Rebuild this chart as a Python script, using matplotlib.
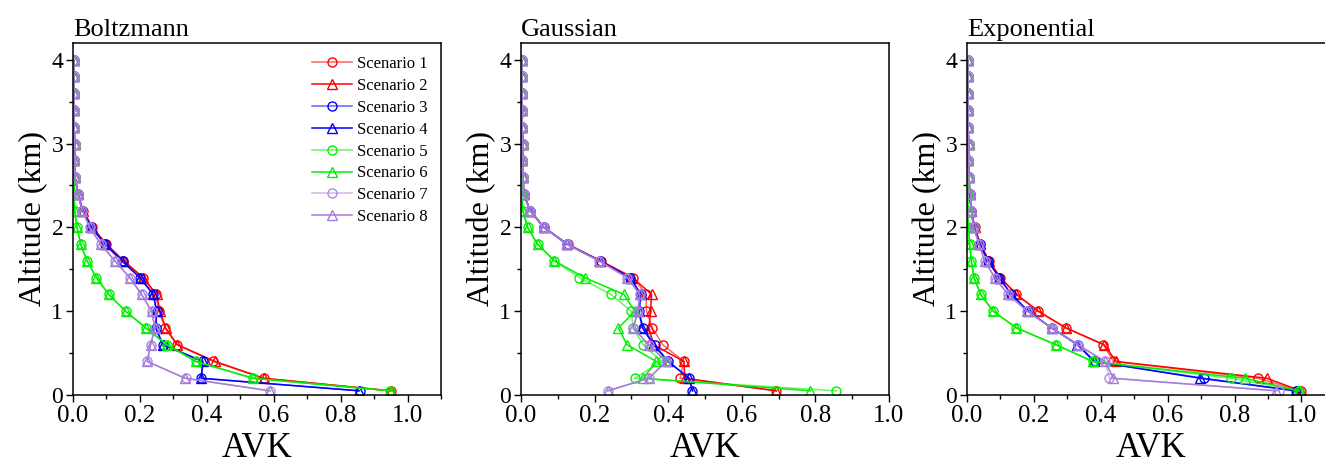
import matplotlib
matplotlib.use("Agg")
import matplotlib.pyplot as plt
from matplotlib.ticker import MultipleLocator

plt.rcParams['font.family'] = ['Liberation Serif', 'DejaVu Serif']

# altitude levels (km)
altitude = [0.05, 0.2, 0.4, 0.6, 0.8, 1.0, 1.2, 1.4, 1.6, 1.8, 2.0, 2.2, 2.4,
            2.6, 2.8, 3.0, 3.2, 3.4, 3.6, 3.8, 4.0]

# AVK above 2.4 km is ~0 for every scenario
upper = [0.006, 0.004, 0.005, 0.003, 0.004, 0.002, 0.003, 0.002]

# Boltzmann, values for 0.05 ... 2.4 km
boltz_1 = [0.950, 0.570, 0.420, 0.310, 0.275, 0.257, 0.247, 0.208, 0.150, 0.098, 0.058, 0.030, 0.015]
boltz_2 = [0.950, 0.570, 0.425, 0.312, 0.277, 0.260, 0.250, 0.210, 0.152, 0.100, 0.058, 0.030, 0.015]
boltz_3 = [0.857, 0.383, 0.390, 0.270, 0.248, 0.250, 0.240, 0.200, 0.148, 0.097, 0.055, 0.028, 0.015]
boltz_4 = [0.855, 0.383, 0.388, 0.268, 0.247, 0.250, 0.240, 0.200, 0.146, 0.095, 0.055, 0.028, 0.015]
boltz_5 = [0.948, 0.538, 0.368, 0.280, 0.218, 0.157, 0.107, 0.070, 0.042, 0.023, 0.012, 0.005, 0.003]
boltz_6 = [0.948, 0.538, 0.368, 0.280, 0.218, 0.157, 0.107, 0.070, 0.042, 0.023, 0.012, 0.005, 0.003]
boltz_7 = [0.590, 0.337, 0.222, 0.232, 0.245, 0.235, 0.205, 0.170, 0.125, 0.083, 0.050, 0.028, 0.015]
boltz_8 = [0.588, 0.335, 0.222, 0.232, 0.245, 0.235, 0.205, 0.170, 0.125, 0.083, 0.050, 0.028, 0.015]

# Gaussian
gauss_1 = [0.694, 0.432, 0.443, 0.385, 0.357, 0.341, 0.340, 0.305, 0.218, 0.127, 0.062, 0.025, 0.007]
gauss_2 = [0.694, 0.445, 0.443, 0.360, 0.348, 0.352, 0.355, 0.303, 0.216, 0.126, 0.062, 0.025, 0.007]
gauss_3 = [0.466, 0.457, 0.400, 0.364, 0.332, 0.321, 0.327, 0.297, 0.214, 0.125, 0.062, 0.025, 0.007]
gauss_4 = [0.466, 0.457, 0.400, 0.360, 0.330, 0.320, 0.325, 0.297, 0.214, 0.125, 0.062, 0.025, 0.007]
gauss_5 = [0.857, 0.309, 0.382, 0.332, 0.305, 0.300, 0.244, 0.159, 0.091, 0.045, 0.018, 0.005, 0.002]
gauss_6 = [0.786, 0.332, 0.368, 0.288, 0.265, 0.309, 0.280, 0.173, 0.091, 0.045, 0.018, 0.005, 0.002]
gauss_7 = [0.236, 0.347, 0.395, 0.347, 0.305, 0.318, 0.323, 0.289, 0.212, 0.125, 0.062, 0.025, 0.007]
gauss_8 = [0.236, 0.347, 0.395, 0.347, 0.305, 0.318, 0.323, 0.289, 0.212, 0.125, 0.062, 0.025, 0.007]

# Exponential
expo_1 = [0.998, 0.870, 0.438, 0.408, 0.296, 0.213, 0.148, 0.100, 0.066, 0.040, 0.023, 0.013, 0.008]
expo_2 = [0.998, 0.896, 0.446, 0.410, 0.296, 0.213, 0.148, 0.100, 0.066, 0.040, 0.023, 0.013, 0.008]
expo_3 = [0.983, 0.708, 0.383, 0.333, 0.253, 0.183, 0.133, 0.096, 0.063, 0.038, 0.020, 0.013, 0.008]
expo_4 = [0.983, 0.698, 0.380, 0.330, 0.253, 0.183, 0.133, 0.096, 0.063, 0.038, 0.020, 0.013, 0.008]
expo_5 = [0.993, 0.790, 0.376, 0.266, 0.148, 0.078, 0.041, 0.021, 0.013, 0.008, 0.004, 0.003, 0.002]
expo_6 = [0.993, 0.830, 0.376, 0.266, 0.148, 0.078, 0.041, 0.021, 0.013, 0.008, 0.004, 0.003, 0.002]
expo_7 = [0.933, 0.426, 0.413, 0.331, 0.253, 0.180, 0.123, 0.083, 0.053, 0.036, 0.020, 0.013, 0.010]
expo_8 = [0.923, 0.438, 0.413, 0.331, 0.253, 0.180, 0.123, 0.083, 0.053, 0.036, 0.020, 0.013, 0.010]

panel_titles = ["Boltzmann", "Gaussian", "Exponential"]
panel_xmax = [1.1, 1.0, 1.1]
labels = [f"Scenario {i}" for i in range(1, 9)]

panels = [
    [boltz_1, boltz_2, boltz_3, boltz_4, boltz_5, boltz_6, boltz_7, boltz_8],
    [gauss_1, gauss_2, gauss_3, gauss_4, gauss_5, gauss_6, gauss_7, gauss_8],
    [expo_1, expo_2, expo_3, expo_4, expo_5, expo_6, expo_7, expo_8],
]

base_colors = ["#FF0000", "#FF0000", "#0000FF", "#0000FF",
               "#00F000", "#00F000", "#B08AE0", "#A57BDA"]
markers = ["o", "^"] * 4

fig = plt.figure(figsize=(13.25, 4.59), dpi=100)
lefts = [0.0551, 0.3932, 0.7298]

for p, (series, title, xmax) in enumerate(zip(panels, panel_titles, panel_xmax)):
    ax = fig.add_axes([lefts[p], 0.1394, 0.2777, 0.767])
    for i, vals in enumerate(series):
        x = vals + upper
        c = matplotlib.colors.to_rgba(base_colors[i])
        line_alpha = 0.6 if markers[i] == "o" else 1.0
        ax.plot(x, altitude, color=(c[0], c[1], c[2], line_alpha), lw=1.1,
                marker=markers[i], ms=6.5, mfc="none", mec=c, mew=1.0,
                label=labels[i])
    ax.set_xlim(0, xmax)
    ax.set_ylim(0, 4.2)
    ax.xaxis.set_major_locator(MultipleLocator(0.2))
    ax.xaxis.set_minor_locator(MultipleLocator(0.1))
    ax.yaxis.set_major_locator(MultipleLocator(1))
    ax.yaxis.set_minor_locator(MultipleLocator(0.5))
    ax.xaxis.set_major_formatter(matplotlib.ticker.FormatStrFormatter("%.1f"))
    ax.tick_params(which="major", direction="out", length=5, width=1)
    ax.tick_params(axis="x", which="major", labelsize=18, pad=2)
    ax.tick_params(axis="y", which="major", labelsize=17, pad=2)
    ax.tick_params(which="minor", direction="out", length=3, width=1)
    for s in ax.spines.values():
        s.set_linewidth(1.1)
    ax.set_xlabel("AVK", fontsize=25, labelpad=4)
    ax.set_ylabel("Altitude (km)", fontsize=23, labelpad=2)
    ax.set_title(title, loc="left", fontsize=19, pad=5)
    if p == 0:
        ax.legend(loc="upper right", frameon=False, fontsize=12,
                  handlelength=2.4, labelspacing=0.35, handletextpad=0.3,
                  borderaxespad=0.4)

fig.savefig("out.png", dpi=100)
